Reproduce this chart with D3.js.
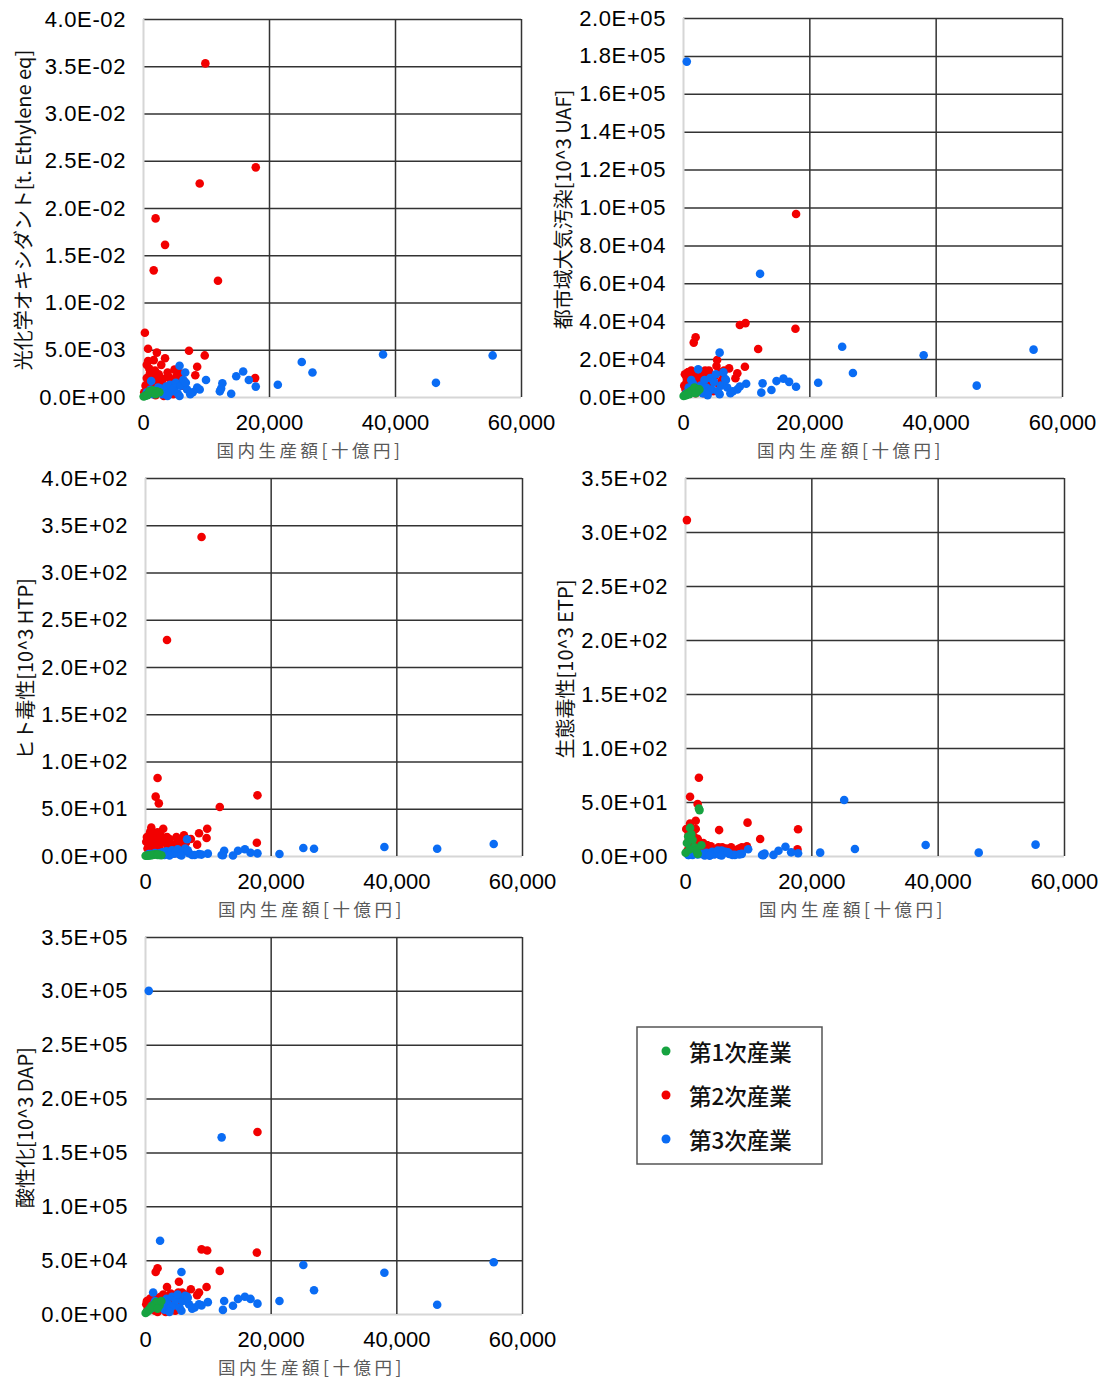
<!DOCTYPE html>
<html>
<head>
<meta charset="utf-8">
<script src="https://cdn.jsdelivr.net/npm/d3@7"></script>
<style>
  body { margin: 0; background: #fff; }
  svg { display: block; }
</style>
</head>
<body>
<svg id="chart" width="1102" height="1381"></svg>
<script>
// 国内生産額[十億円] per sector, and the five impact indicators for each industry group
const xTicks = [0, 20000, 40000, 60000];

// 第1次産業
const xPrimary    = [2200, 2300, 800, 500, 300, 1200, 1500, 100, 1800, 2600, 700, 1000, 2000];
const photoPrimary = [0.6e-3, 0.5e-3, 0.3e-3, 0.2e-3, 0.1e-3, 0.5e-3, 0.7e-3, 0.05e-3, 0.4e-3, 0.5e-3, 0.2e-3, 0.6e-3, 0.3e-3];
const uafPrimary  = [0.4e4, 0.3e4, 0.2e4, 0.1e4, 0.1e4, 0.3e4, 0.35e4, 0.05e4, 0.5e4, 0.4e4, 0.2e4, 0.15e4, 0.2e4];
const htpPrimary  = [1.5, 1.0, 1.0, 0.5, 0.3, 1.2, 1.5, 0.2, 1.8, 0.8, 0.6, 0.9, 1.1];
const etpPrimary  = [44, 42.5, 26, 18, 12, 15, 8, 3, 5, 10, 6, 20, 2];
const dapPrimary  = [1.0e4, 0.8e4, 0.5e4, 0.3e4, 0.2e4, 0.6e4, 0.9e4, 0.1e4, 1.1e4, 1.2e4, 0.4e4, 0.7e4, 0.5e4];

// 第2次産業
const xSecondary = [17900, 17800, 9900, 9000, 11900, 2000, 3500, 1700, 300, 2200, 800, 7300, 9800, 8600, 8300, 5400, 5300, 2900, 3500, 1700, 600,
  400, 600, 900, 1100, 1300, 1400, 1600, 1900, 2100, 2300, 2500, 2700, 3000, 3200, 3600, 3900, 4200, 4500, 4800, 5000, 5600, 5900, 6200, 6500, 3300, 200, 1000, 2000, 800, 4100];
const photoSecondary = [24.3e-3, 2.0e-3, 35.3e-3, 22.6e-3, 12.3e-3, 18.9e-3, 16.1e-3, 13.4e-3, 6.8e-3, 4.7e-3, 5.1e-3, 4.9e-3, 4.4e-3, 3.2e-3, 2.3e-3, 2.8e-3, 2.2e-3, 3.4e-3, 4.1e-3, 3.9e-3, 3.4e-3,
  1.2e-3, 2.0e-3, 1.5e-3, 2.5e-3, 0.8e-3, 2.2e-3, 1.0e-3, 2.8e-3, 1.8e-3, 0.6e-3, 2.4e-3, 1.4e-3, 0.4e-3, 1.9e-3, 1.1e-3, 2.6e-3, 0.9e-3, 1.6e-3, 0.3e-3, 2.9e-3, 2.0e-3, 2.5e-3, 1.2e-3, 1.7e-3, 0.1e-3, 0.5e-3, 3.0e-3, 0.2e-3, 3.8e-3, 2.1e-3];
const uafSecondary = [9.66e4, 3.6e4, 3.9e4, 3.8e4, 2.53e4, 3.15e4, 1.39e4, 2.87e4, 1.2e4, 1.0e4, 1.3e4, 1.51e4, 1.6e4, 1.25e4, 0.99e4, 1.95e4, 1.64e4, 1.2e4, 0.9e4, 1.1e4, 1.0e4,
  0.4e4, 0.8e4, 1.2e4, 0.6e4, 1.4e4, 0.9e4, 0.3e4, 1.1e4, 0.7e4, 0.5e4, 1.3e4, 0.9e4, 0.4e4, 1.0e4, 0.6e4, 1.2e4, 0.5e4, 0.8e4, 0.3e4, 1.1e4, 0.7e4, 1.3e4, 0.9e4, 1.4e4, 0.2e4, 0.6e4, 1.0e4, 0.2e4, 1.3e4, 1.4e4];
const htpSecondary = [64.2, 14.1, 28.9, 337.6, 51.9, 82.5, 228.6, 62.8, 20, 55.7, 25, 18, 19.0, 24.0, 12, 15, 10, 28.9, 20, 22, 18,
  8, 12, 25, 15, 20, 10, 5, 18, 12, 8, 22, 15, 4, 14, 10, 18, 6, 12, 3, 20, 9, 16, 22, 14, 2, 15, 30, 25, 18, 11];
const etpSecondary = [24.7, 6.2, 30.9, 8, 15.7, 48.1, 10, 32.7, 311, 72.5, 54.9, 8, 9, 7, 6, 24, 8, 12, 10, 25, 20,
  5, 15, 10, 8, 12, 18, 4, 6, 14, 3, 9, 5, 2, 7, 4, 6, 3, 5, 2, 6, 4, 8, 5, 7, 1, 25, 20, 16, 30, 9];
const dapSecondary = [16.9e4, 5.7e4, 5.9e4, 6.0e4, 4.0e4, 4.24e4, 2.5e4, 3.9e4, 1.2e4, 1.5e4, 1.4e4, 2.3e4, 2.5e4, 2.0e4, 1.75e4, 3.0e4, 2.0e4, 1.8e4, 1.6e4, 1.5e4, 1.0e4,
  0.4e4, 0.8e4, 1.2e4, 0.6e4, 1.5e4, 1.0e4, 0.3e4, 1.3e4, 0.9e4, 0.5e4, 1.6e4, 1.1e4, 0.4e4, 1.2e4, 0.8e4, 1.4e4, 0.7e4, 1.7e4, 0.3e4, 1.8e4, 1.3e4, 2.0e4, 1.5e4, 1.8e4, 0.2e4, 0.9e4, 1.0e4, 0.2e4, 1.4e4, 1.9e4];

// 第3次産業
const xTertiary = [55500, 46500, 38100, 26900, 25200, 21400, 17900, 16800, 15900, 14800, 14000, 12600, 12200, 12400, 10000, 9000, 8600, 7900, 6700, 5800, 2400, 1300, 600,
  500, 900, 1200, 1600, 2000, 2800, 3100, 3400, 3700, 4000, 4300, 4600, 4900, 5200, 5500, 6000, 6400, 7000, 7500, 3900, 5800, 6800];
const photoTertiary = [4.4e-3, 1.5e-3, 4.5e-3, 2.6e-3, 3.7e-3, 1.3e-3, 1.1e-3, 1.8e-3, 2.7e-3, 2.2e-3, 0.35e-3, 1.45e-3, 0.6e-3, 0.9e-3, 1.8e-3, 0.8e-3, 1.0e-3, 0.5e-3, 2.6e-3, 3.3e-3, 1.0e-3, 1.7e-3, 0.5e-3,
  0.2e-3, 0.4e-3, 0.8e-3, 0.3e-3, 0.6e-3, 0.9e-3, 0.3e-3, 0.7e-3, 1.1e-3, 0.4e-3, 1.3e-3, 0.6e-3, 0.9e-3, 1.5e-3, 0.4e-3, 1.2e-3, 1.8e-3, 0.8e-3, 0.3e-3, 0.1e-3, 0.1e-3, 1.5e-3];
const uafTertiary = [2.5e4, 0.6e4, 2.2e4, 1.27e4, 2.65e4, 0.75e4, 0.54e4, 0.8e4, 0.97e4, 0.84e4, 0.37e4, 0.72e4, 6.5e4, 0.23e4, 0.7e4, 0.55e4, 0.4e4, 0.3e4, 0.95e4, 2.34e4, 1.46e4, 0.9e4, 17.7e4,
  0.2e4, 0.5e4, 0.3e4, 0.7e4, 0.4e4, 0.6e4, 0.2e4, 0.9e4, 0.5e4, 0.3e4, 1.0e4, 0.4e4, 0.8e4, 1.2e4, 0.3e4, 0.6e4, 1.3e4, 0.5e4, 0.2e4, 0.1e4, 0.15e4, 0.9e4];
const htpTertiary = [12.7, 7.7, 9.5, 7.7, 8.5, 2.1, 2.8, 3.5, 7.1, 5.6, 0.5, 5.6, 1.0, 0.8, 2.5, 1.5, 2.0, 1.0, 17.7, 4.0, 3.0, 2.0, 2.0,
  1, 2, 1.5, 3, 2, 4, 1, 5, 3, 2, 6, 2.5, 4, 7, 1.5, 5, 8, 3, 1, 0.5, 0.5, 6];
const etpTertiary = [10.5, 3.1, 10.2, 6.5, 51.9, 3.1, 2.5, 3.4, 8.6, 4.9, 1.0, 2.2, 1.0, 0.8, 6.2, 2.0, 1.5, 1.0, 3.0, 5.0, 2.0, 2.0, 1.0,
  1, 2, 1, 3, 1.5, 2, 0.5, 3, 2, 1, 4, 1.5, 2.5, 5, 1, 3, 4, 2, 1, 0.3, 0.5, 3.5];
const dapTertiary = [4.8e4, 0.86e4, 3.83e4, 2.2e4, 4.55e4, 1.2e4, 0.96e4, 1.4e4, 1.6e4, 1.4e4, 0.76e4, 1.2e4, 16.4e4, 0.38e4, 1.1e4, 0.8e4, 0.9e4, 0.6e4, 1.6e4, 3.9e4, 6.8e4, 2.0e4, 30.0e4,
  0.3e4, 0.5e4, 0.8e4, 1.2e4, 0.6e4, 1.0e4, 0.4e4, 1.4e4, 0.9e4, 0.5e4, 1.6e4, 0.8e4, 1.3e4, 1.8e4, 0.6e4, 1.2e4, 1.7e4, 0.9e4, 0.5e4, 0.2e4, 0.3e4, 1.5e4];

const groupNames = ["第1次産業", "第2次産業", "第3次産業"];
const groupColors = ["#16a340", "#f20000", "#0a6cf4"];

function makeRows(xs, photo, uaf, htp, etp, dap) {
  return xs.map((x, i) => ({ x: x, photo: photo[i], uaf: uaf[i], htp: htp[i], etp: etp[i], dap: dap[i] }));
}
const groups = [
  makeRows(xPrimary, photoPrimary, uafPrimary, htpPrimary, etpPrimary, dapPrimary),
  makeRows(xSecondary, photoSecondary, uafSecondary, htpSecondary, etpSecondary, dapSecondary),
  makeRows(xTertiary, photoTertiary, uafTertiary, htpTertiary, etpTertiary, dapTertiary)
];
// red first, then blue, green on top
const drawOrder = [1, 2, 0];

const panels = [
  { key: "photo", label: "光化学オキシダント[t. Ethylene eq]", left: 143, top: 19, right: 521, bottom: 397, yMax: 0.04, yStep: 0.005 },
  { key: "uaf", label: "都市域大気汚染[10^3 UAF]", left: 683, top: 18, right: 1062, bottom: 397, yMax: 2e5, yStep: 2e4 },
  { key: "htp", label: "ヒト毒性[10^3 HTP]", left: 145, top: 478, right: 522, bottom: 856, yMax: 400, yStep: 50 },
  { key: "etp", label: "生態毒性[10^3 ETP]", left: 685, top: 478, right: 1064, bottom: 856, yMax: 350, yStep: 50 },
  { key: "dap", label: "酸性化[10^3 DAP]", left: 145, top: 937, right: 522, bottom: 1314, yMax: 3.5e5, yStep: 5e4 }
];

const fontNum = "'Liberation Sans', Arial, sans-serif";
const fontJp = "'Noto Sans CJK JP', 'Liberation Sans', sans-serif";

function sci(v) {
  const parts = v.toExponential(1).split("e");
  const exp = parts[1];
  return parts[0] + "E" + exp[0] + exp.slice(1).padStart(2, "0");
}

const svg = d3.select("#chart");

panels.forEach(p => {
  const w = p.right - p.left;
  const h = p.bottom - p.top;
  const x = d3.scaleLinear().domain([0, 60000]).range([0, w]);
  const y = d3.scaleLinear().domain([0, p.yMax]).range([h, 0]);
  const yTicks = d3.range(0, Math.round(p.yMax / p.yStep) + 1).map(i => i * p.yStep);

  const g = svg.append("g").attr("transform", "translate(" + p.left + "," + p.top + ")");

  // y axis with gridlines
  const ya = g.append("g")
    .call(d3.axisLeft(y).tickValues(yTicks).tickFormat(sci).tickSize(-w).tickPadding(17));
  ya.select(".domain").remove();
  ya.selectAll("line")
    .attr("stroke", (d, i) => i === 0 ? "#d6d6d6" : "#333")
    .attr("stroke-width", (d, i) => i === 0 ? 2 : 1.5);
  ya.selectAll("text")
    .attr("font-family", fontNum).attr("font-size", 22).attr("letter-spacing", "0.6px").attr("fill", "#000");

  // x axis with gridlines
  const xa = g.append("g").attr("transform", "translate(0," + h + ")")
    .call(d3.axisBottom(x).tickValues(xTicks).tickFormat(d3.format(",")).tickSize(-h).tickPadding(17));
  xa.select(".domain").remove();
  xa.selectAll("line")
    .attr("stroke", (d, i) => i === 0 ? "#d6d6d6" : "#333")
    .attr("stroke-width", (d, i) => i === 0 ? 2 : 1.5);
  xa.selectAll("text")
    .attr("font-family", fontNum).attr("font-size", 22).attr("fill", "#000");

  // points
  drawOrder.forEach(gi => {
    g.append("g").selectAll("circle")
      .data(groups[gi])
      .enter()
      .append("circle")
      .attr("cx", d => x(d.x))
      .attr("cy", d => y(d[p.key]))
      .attr("r", 4.3)
      .attr("fill", groupColors[gi]);
  });

  // axis titles
  svg.append("text")
    .attr("transform", "translate(" + (p.left - 121) + "," + (p.top + h / 2 + 2) + ") rotate(-90)")
    .attr("text-anchor", "middle")
    .attr("dominant-baseline", "central")
    .attr("font-family", fontJp)
    .attr("font-size", 20)
    .attr("fill", "#111")
    .text(p.label);

  svg.append("text")
    .attr("x", p.left + w / 2 - 22)
    .attr("y", p.bottom + 60)
    .attr("text-anchor", "middle")
    .attr("font-family", fontJp)
    .attr("font-size", 17.5)
    .attr("letter-spacing", "3.5px")
    .attr("fill", "#595959")
    .text("国内生産額[十億円]");
});

// legend
const legend = svg.append("g").attr("transform", "translate(637,1027)");
legend.append("rect")
  .attr("width", 185).attr("height", 137)
  .attr("fill", "#fff").attr("stroke", "#555").attr("stroke-width", 1.5);
groupNames.forEach((name, i) => {
  const item = legend.append("g").attr("transform", "translate(0," + (24 + i * 44) + ")");
  item.append("circle").attr("cx", 29).attr("cy", 0).attr("r", 4.5).attr("fill", groupColors[i]);
  item.append("text")
    .attr("x", 52).attr("y", 0)
    .attr("dominant-baseline", "central")
    .attr("font-family", fontJp)
    .attr("font-size", 22.5)
    .attr("font-weight", 500)
    .attr("fill", "#111")
    .text(name);
});
</script>
</body>
</html>
